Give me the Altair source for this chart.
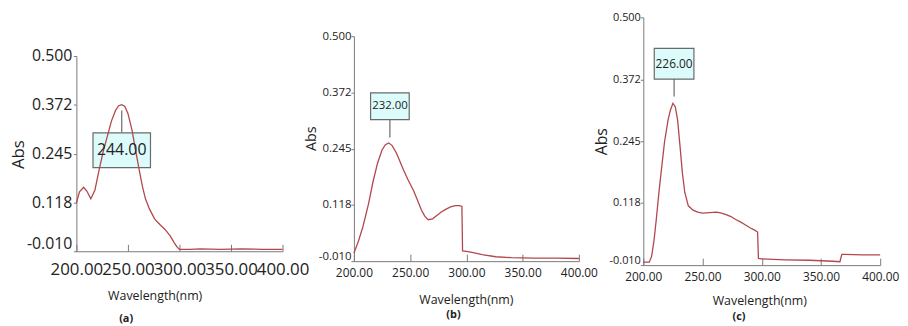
import altair as alt
import pandas as pd

# ---------------- data ----------------
wl_a = [200, 203, 207, 210, 214, 218, 222, 226, 230, 234, 238, 241, 244, 247, 250,
        254, 257, 261, 264, 267, 271, 276, 281, 286, 291, 295, 298, 300, 310, 320,
        340, 360, 380, 400]
abs_a = [0.116, 0.145, 0.157, 0.148, 0.127, 0.150, 0.202, 0.250, 0.290, 0.330, 0.358,
         0.370, 0.373, 0.368, 0.350, 0.306, 0.260, 0.202, 0.160, 0.127, 0.100, 0.074,
         0.060, 0.047, 0.030, 0.012, 0.000, -0.005, -0.005, -0.004, -0.005, -0.004,
         -0.005, -0.005]

wl_b = [200, 204, 208, 213, 217, 221, 225, 228, 231, 234, 238, 244, 248, 253, 257,
        260, 263, 266, 270, 274, 278, 282, 286, 290, 294, 296, 296.6, 300, 305, 314,
        326, 340, 360, 380, 400]
abs_b = [0.008, 0.035, 0.068, 0.120, 0.170, 0.212, 0.242, 0.254, 0.258, 0.252, 0.234,
         0.197, 0.175, 0.150, 0.125, 0.106, 0.092, 0.084, 0.086, 0.094, 0.102, 0.108,
         0.113, 0.116, 0.116, 0.114, 0.013, 0.012, 0.010, 0.005, 0.000, -0.002, -0.003,
         -0.003, -0.004]

wl_c = [200, 205, 207, 209, 211, 213, 215, 218, 221, 223, 225, 227, 229, 231, 233,
        235, 238, 242, 246, 250, 256, 262, 266, 270, 274, 278, 282, 286, 290, 294,
        296.5, 297.2, 300, 320, 340, 360, 366, 367.6, 370, 385, 400]
abs_c = [-0.004, -0.004, 0.008, 0.040, 0.085, 0.135, 0.180, 0.245, 0.290, 0.310, 0.323,
         0.316, 0.288, 0.235, 0.180, 0.140, 0.112, 0.103, 0.099, 0.097, 0.098, 0.099,
         0.097, 0.094, 0.090, 0.084, 0.079, 0.073, 0.067, 0.062, 0.058, 0.004, 0.003,
         0.001, 0.000, -0.002, -0.003, 0.012, 0.012, 0.011, 0.011]

peak_wl = [244, 232, 226]
peak_abs = [0.373, 0.258, 0.325]
peak_label = ["244.00", "232.00", "226.00"]
captions = ["(a)", "(b)", "(c)"]
x_ticks = [200, 250, 300, 350, 400]
y_ticks = [-0.010, 0.118, 0.245, 0.372, 0.500]
x_title = "Wavelength(nm)"
y_title = "Abs"

# ---------------- layout / style (chart pixel coordinates) ----------------
W, H = 900, 318
FONT = "Open Sans"
LINE = "#b3474c"
GREY = "#7a7a7a"
TXT = "#222222"
BOX_FILL = "#dcfbfb"

panels = [
    dict(wl=wl_a, ab=abs_a, xr=[69, 277], yr=[244, 47],
         ylab=16, xlab=17, xpad=10, ypad=1.5, abs_fs=17,
         abs_pos=(-58.5, 146), wl_pos=(148, 44.2), cap_pos=(118.7, 75),
         box_w=58, box_h=35, box_dy=46, con=(6, 28), ann_fs=16),
    dict(wl=wl_b, ab=abs_b, xr=[349, 576], yr=[254, 27],
         ylab=11.5, xlab=12, xpad=6, ypad=0, abs_fs=14.5,
         abs_pos=(-43, 130), wl_pos=(462, 38.5), cap_pos=(449, 61),
         box_w=39, box_h=27, box_dy=-37, con=(-23.4, -5.4), ann_fs=11.5),
    dict(wl=wl_c, ab=abs_c, xr=[641, 880], yr=[258, 8],
         ylab=11, xlab=12, xpad=7, ypad=0, abs_fs=16,
         abs_pos=(-42, 133), wl_pos=(758, 36), cap_pos=(737, 59),
         box_w=40, box_h=31, box_dy=-39, con=(-23.5, -5.8), ann_fs=12),
]

layers = []
for i, p in enumerate(panels):
    df = pd.DataFrame({"wl": p["wl"], "ab": p["ab"]})
    pk = pd.DataFrame({"wl": [peak_wl[i]], "ab": [peak_abs[i]], "label": [peak_label[i]]})
    xs = alt.Scale(domain=[200, 400], range=p["xr"], nice=False, zero=False)
    ys = alt.Scale(domain=[-0.010, 0.500], range=p["yr"], nice=False, zero=False)
    y_ax = p["yr"][0]

    def X(axis=None):
        return alt.X("wl:Q", scale=xs, axis=axis)

    def Y(axis=None):
        return alt.Y("ab:Q", scale=ys, axis=axis)

    tick_axis = alt.Axis(
        orient="bottom", offset=(y_ax - 7) - H, values=x_ticks, domain=False,
        labels=False, ticks=True, tickSize=7, tickColor=GREY, tickWidth=1, grid=False,
        title=captions[i], titleFont=FONT, titleFontSize=11, titleFontWeight="bold",
        titleColor=TXT, titleX=p["cap_pos"][0], titleY=p["cap_pos"][1],
        titleBaseline="middle", titleAnchor="middle",
    )
    label_axis = alt.Axis(
        orient="bottom", offset=y_ax - H, values=x_ticks, format=".2f", domain=True,
        domainColor=GREY, domainWidth=1, ticks=False, grid=False, labelFlush=False,
        labelOverlap=False, labelFont=FONT, labelFontSize=p["xlab"], labelColor=TXT,
        labelPadding=p["xpad"], title=x_title, titleFont=FONT, titleFontSize=12.5,
        titleFontWeight="normal", titleColor=TXT, titleX=p["wl_pos"][0],
        titleY=p["wl_pos"][1], titleBaseline="middle", titleAnchor="middle",
    )
    y_axis = alt.Axis(
        orient="left", offset=-p["xr"][0], values=y_ticks, format=".3f",
        labelExpr="replace(datum.label, '\u2212', '-')",
        domain=True, domainColor=GREY, domainWidth=1, ticks=True, tickSize=3,
        tickColor=GREY, grid=False, labelFont=FONT, labelFontSize=p["ylab"],
        labelColor=TXT, labelPadding=p["ypad"],
        labelBaseline={"condition": {"test": "datum.value < 0", "value": "bottom"},
                       "value": "middle"},
        title=y_title, titleFont=FONT, titleFontSize=p["abs_fs"], titleFontWeight="normal",
        titleColor=TXT, titleX=p["abs_pos"][0], titleY=p["abs_pos"][1], titleAngle=270,
        titleBaseline="middle", titleAnchor="middle",
    )

    r = p["box_h"] / p["box_w"]
    box_shape = f"M-1,-{r:.3f}H1V{r:.3f}H-1Z"

    box = alt.Chart(pk).mark_point(
        shape=box_shape, size=p["box_w"] ** 2, filled=True, fill=BOX_FILL,
        stroke="#6a6a6a", strokeWidth=1.2, opacity=1, fillOpacity=1,
        yOffset=p["box_dy"],
    ).encode(x=X(), y=Y())

    connector = alt.Chart(pk).mark_rule(
        color="#6a6a6a", strokeWidth=1.2, yOffset=p["con"][0], y2Offset=p["con"][1]
    ).encode(x=X(), y=Y(), y2="ab:Q")

    line = alt.Chart(df).mark_line(color=LINE, strokeWidth=1.3).encode(
        x=X(tick_axis), y=Y(y_axis)
    )

    carrier = alt.Chart(df).mark_line(opacity=0).encode(x=X(label_axis), y=Y())

    text = alt.Chart(pk).mark_text(
        font=FONT, fontSize=p["ann_fs"], color=TXT, dy=p["box_dy"], baseline="middle",
        align="center",
    ).encode(x=X(), y=Y(), text="label:N")

    layers += [box, connector, line, carrier, text]

chart = (
    alt.layer(*layers)
    .resolve_scale(x="independent", y="independent")
    .resolve_axis(x="independent", y="independent")
    .properties(width=W, height=H, autosize=alt.AutoSizeParams(type="none"), padding=0,
                background="white")
    .configure_view(stroke=None)
)

chart.save("out.html", embed_options={"renderer": "svg", "actions": False})
